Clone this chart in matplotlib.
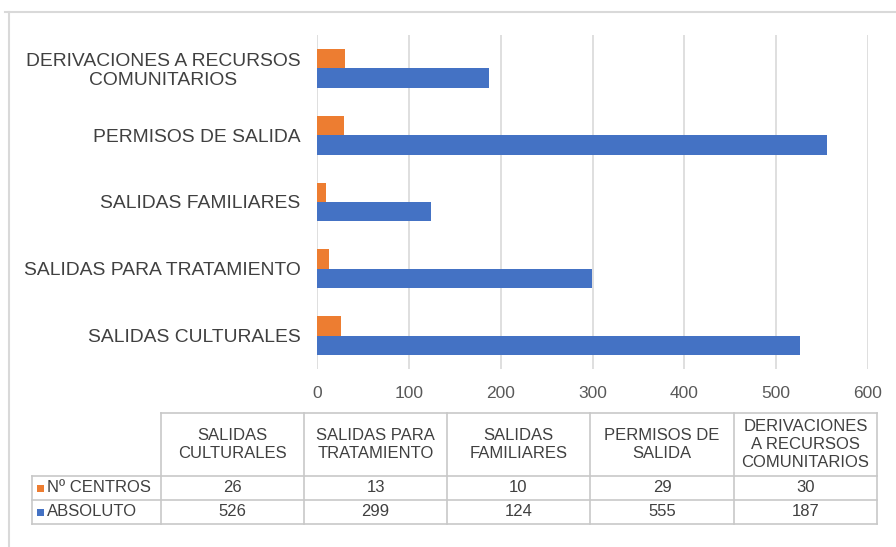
import matplotlib
matplotlib.use("Agg")
import matplotlib.pyplot as plt
from matplotlib.lines import Line2D
from matplotlib.patches import Rectangle

plt.rcParams['font.family'] = ['Liberation Sans', 'DejaVu Sans']

categories = ["SALIDAS CULTURALES", "SALIDAS PARA TRATAMIENTO", "SALIDAS FAMILIARES",
              "PERMISOS DE SALIDA", "DERIVACIONES A RECURSOS\nCOMUNITARIOS"]
table_headers = ["SALIDAS\nCULTURALES", "SALIDAS PARA\nTRATAMIENTO", "SALIDAS\nFAMILIARES",
                 "PERMISOS DE\nSALIDA", "DERIVACIONES\nA RECURSOS\nCOMUNITARIOS"]
series_names = ["Nº CENTROS", "ABSOLUTO"]
n_centros = [26, 13, 10, 29, 30]
absoluto = [526, 299, 124, 555, 187]
x_ticks = [0, 100, 200, 300, 400, 500, 600]

ORANGE = "#ED7D31"
BLUE = "#4472C4"
GRID = "#d9d9d9"
TEXT = "#404040"
TICK = "#595959"

W, H = 896, 547
fig = plt.figure(figsize=(W / 100, H / 100), dpi=100)

def fx(px):
    return px / W

def fy(py):
    return 1 - py / H

# outer chart frame (top and left edges visible)
fig.add_artist(Line2D([fx(5), fx(896)], [fy(12), fy(12)], color=GRID, lw=1.5))
fig.add_artist(Line2D([fx(8.5), fx(8.5)], [fy(12), fy(547)], color=GRID, lw=1.5))

ax = fig.add_axes([fx(317), fy(369), fx(868) - fx(317), fy(35) - fy(369)])
pos = list(range(len(categories)))
h = 0.29
ax.barh([p + h / 2 for p in pos], n_centros, height=h, color=ORANGE, label=series_names[0])
ax.barh([p - h / 2 for p in pos], absoluto, height=h, color=BLUE, label=series_names[1])
ax.set_xlim(0, 600)
ax.set_ylim(-0.5, len(categories) - 0.5)
ax.set_xticks(x_ticks)
ax.set_xticklabels([str(t) for t in x_ticks], fontsize=12.5, color=TICK)
ax.set_yticks(pos)
ax.set_yticklabels(categories, fontsize=13.9, color=TEXT, multialignment='center',
                   linespacing=1.1)
ax.tick_params(axis='both', length=0)
ax.tick_params(axis='y', pad=12)
ax.tick_params(axis='x', pad=12)
ax.grid(axis='x', color=GRID, lw=1.2)
ax.set_axisbelow(True)
for s in ax.spines.values():
    s.set_visible(False)

# data table below the chart
col_edges = [161, 304, 447, 590, 734, 877]
row_edges = [413, 476, 500, 524]
label_left = 32
tcol = "#c8c8c8"
fig.add_artist(Line2D([fx(col_edges[0]), fx(col_edges[-1])], [fy(row_edges[0])] * 2, color=tcol, lw=1.2))
for r in row_edges[1:]:
    fig.add_artist(Line2D([fx(label_left), fx(col_edges[-1])], [fy(r)] * 2, color=tcol, lw=1.2))
for c in col_edges:
    fig.add_artist(Line2D([fx(c)] * 2, [fy(row_edges[0]), fy(row_edges[-1])], color=tcol, lw=1.2))
fig.add_artist(Line2D([fx(label_left)] * 2, [fy(row_edges[1]), fy(row_edges[-1])], color=tcol, lw=1.2))

for i, hdr in enumerate(table_headers):
    cx = (col_edges[i] + col_edges[i + 1]) / 2
    cy = (row_edges[0] + row_edges[1]) / 2
    fig.text(fx(cx), fy(cy), hdr, ha='center', va='center', fontsize=12, color=TEXT,
             linespacing=1.25)

rows = [n_centros, absoluto]
colors = [ORANGE, BLUE]
for r, (name, vals, col) in enumerate(zip(series_names, rows, colors)):
    cy = (row_edges[r + 1] + row_edges[r + 2]) / 2
    fig.add_artist(Rectangle((fx(37), fy(cy + 3.5)), fx(7), 7 / H, color=col, lw=0))
    fig.text(fx(47), fy(cy), name, ha='left', va='center', fontsize=12, color=TEXT)
    for i, v in enumerate(vals):
        cx = (col_edges[i] + col_edges[i + 1]) / 2
        fig.text(fx(cx), fy(cy), str(v), ha='center', va='center', fontsize=12, color=TEXT)

fig.savefig("out.png", dpi=100)
